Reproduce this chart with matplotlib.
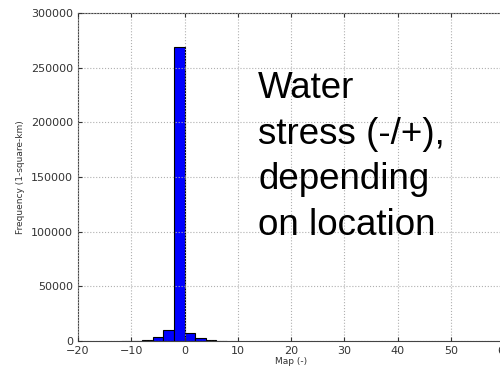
import matplotlib
matplotlib.use("Agg")
import matplotlib.pyplot as plt
import numpy as np

bin_edges = [-12, -10, -8, -6, -4, -2, 0, 2, 4, 6, 8]
counts = [200, 400, 1200, 3200, 10300, 269000, 7000, 2300, 700, 300]
xticks = [-20, -10, 0, 10, 20, 30, 40, 50, 60]
yticks = [0, 50000, 100000, 150000, 200000, 250000, 300000]

fig = plt.figure(figsize=(5.0, 3.68), dpi=100)
ax = fig.add_axes([0.156, 0.0734, 0.852, 0.8913])

lefts = np.array(bin_edges[:-1])
widths = np.diff(bin_edges)
ax.bar(lefts, counts, width=widths, align='edge', color='#0000ff',
       edgecolor='black', linewidth=0.8)

ax.set_xlim(-20, 60)
ax.set_ylim(0, 300000)
ax.set_xticks(xticks)
ax.set_yticks(yticks)
ax.set_xticklabels(['\u221220', '\u221210', '0', '10', '20', '30', '40', '50', '60'])
ax.grid(True, linestyle=':', color='#b0b0b0', linewidth=0.8)
ax.set_axisbelow(False)
for s in ax.spines.values():
    s.set_color('#444444')
ax.tick_params(labelsize=8, colors='#333333', length=3, direction='in',
               top=True, right=True)
ax.set_xlabel('Map (-)', fontsize=6.5, color='#333333', labelpad=1)
ax.set_ylabel('Frequency (1-square-km)', fontsize=6.5, color='#333333', labelpad=4)

fig.text(258/500, 1 - 235/368, 'Water\nstress (-/+),\ndepending\non location',
         fontsize=26.5, family='Liberation Sans', va='baseline', ha='left',
         linespacing=1.39, color='black', multialignment='left')

fig.savefig('out.png', dpi=100)
